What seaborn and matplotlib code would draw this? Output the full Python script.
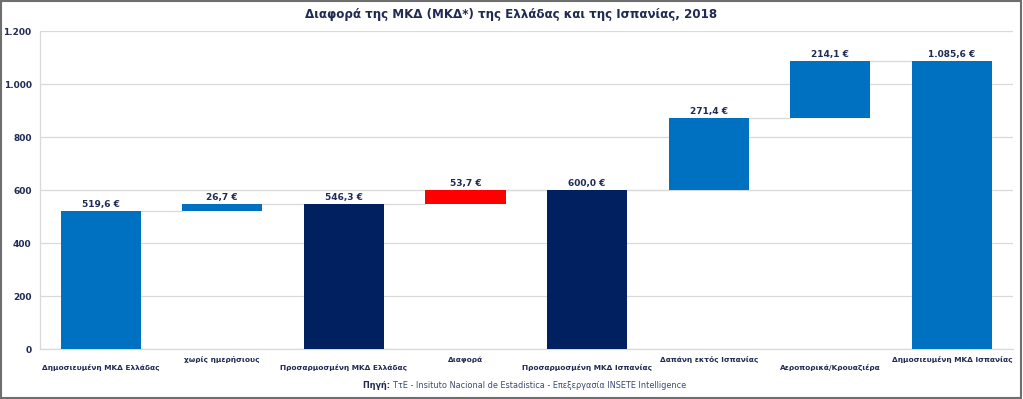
import numpy as np
import pandas as pd
import seaborn as sns
import matplotlib.pyplot as plt
from matplotlib.patches import Rectangle
from matplotlib.ticker import FuncFormatter

# data
categories = ["Δημοσιευμένη ΜΚΔ Ελλάδας", "χωρίς ημερήσιους", "Προσαρμοσμένη ΜΚΔ Ελλάδας",
              "Διαφορά", "Προσαρμοσμένη ΜΚΔ Ισπανίας", "Δαπάνη εκτός Ισπανίας",
              "Αεροπορικά/Κρουαζιέρα", "Δημοσιευμένη ΜΚΔ Ισπανίας"]
values = [519.6, 26.7, 546.3, 53.7, 600.0, 271.4, 214.1, 1085.6]
is_total = [True, False, True, False, True, False, False, True]
bar_colors = ["#0070C0", "#0070C0", "#002060", "#FF0000", "#002060", "#0070C0", "#0070C0", "#0070C0"]
yticks = [0, 200, 400, 600, 800, 1000, 1200]

TXT = "#1F2A55"
GRID = "#D9D9D9"

# running totals for the waterfall
bottoms, tops = [], []
running = 0.0
for v, tot in zip(values, is_total):
    if tot:
        bottoms.append(0.0)
        running = v
    else:
        bottoms.append(running)
        running = running + v
    tops.append(bottoms[-1] + v)

df = pd.DataFrame({"cat": categories, "height": values, "bottom": bottoms})

sns.set_style("white")
plt.rcParams["font.family"] = ["DejaVu Sans"]

fig = plt.figure(figsize=(10.23, 3.99), dpi=100)
ax = fig.add_axes([0.039, 0.125, 0.951, 0.797])

width = 0.66
sns.barplot(data=df, x="cat", y="height", bottom=df["bottom"].values, width=width,
            color=bar_colors[0], saturation=1, ax=ax, zorder=3)
for patch, c in zip(ax.patches, bar_colors):
    patch.set_facecolor(c)
    patch.set_edgecolor("none")

# connectors
for i in range(len(values) - 1):
    level = tops[i]
    ax.plot([i + width / 2, i + 1 - width / 2], [level, level], color=GRID, lw=0.9, zorder=2)

# value labels
for i, (v, t) in enumerate(zip(values, tops)):
    s = f"{v:,.1f}".replace(",", "X").replace(".", ",").replace("X", ".") + " €"
    ax.text(i, t + 8, s, ha="center", va="bottom", fontsize=6.5, fontweight="bold", color=TXT, zorder=4)

ax.set_ylim(0, 1200)
ax.set_xlim(-0.5, len(categories) - 0.5)
ax.set_yticks(yticks)
ax.yaxis.set_major_formatter(FuncFormatter(lambda x, p: f"{int(x):,}".replace(",", ".")))
ax.grid(axis="y", color=GRID, lw=0.9, zorder=0)
ax.set_axisbelow(True)
ax.set_xlabel("")
ax.set_ylabel("")
for s in ["top", "right"]:
    ax.spines[s].set_visible(False)
for s in ["left", "bottom"]:
    ax.spines[s].set_color(GRID)
    ax.spines[s].set_linewidth(0.9)
ax.tick_params(length=0)
ax.tick_params(axis="y", pad=6)
for lab in ax.get_yticklabels():
    lab.set_fontsize(6.5)
    lab.set_fontweight("bold")
    lab.set_color(TXT)
for i, (tick, lab) in enumerate(zip(ax.xaxis.get_major_ticks(), ax.get_xticklabels())):
    lab.set_fontsize(5.3)
    lab.set_fontweight("bold")
    lab.set_color(TXT)
    tick.set_pad(11 if i % 2 == 0 else 5)

fig.text(0.5, 0.963, "Διαφορά της ΜΚΔ (ΜΚΔ*) της Ελλάδας και της Ισπανίας, 2018",
         ha="center", va="center", fontsize=8.6, fontweight="bold", color=TXT)
fig.text(0.384, 0.033, "Πηγή: ", ha="right", va="center", fontsize=5.9, fontweight="bold", color=TXT)
fig.text(0.384, 0.033, "ΤτΕ - Insituto Nacional de Estadistica - Επεξεργασία INSETE Intelligence",
         ha="left", va="center", fontsize=5.9, color="#3C4A70")

fig.patches.append(Rectangle((0.001, 0.002), 0.997, 0.995, transform=fig.transFigure,
                             fill=False, edgecolor="#6E6E6E", lw=1.5))

fig.savefig("out.png", dpi=100)
